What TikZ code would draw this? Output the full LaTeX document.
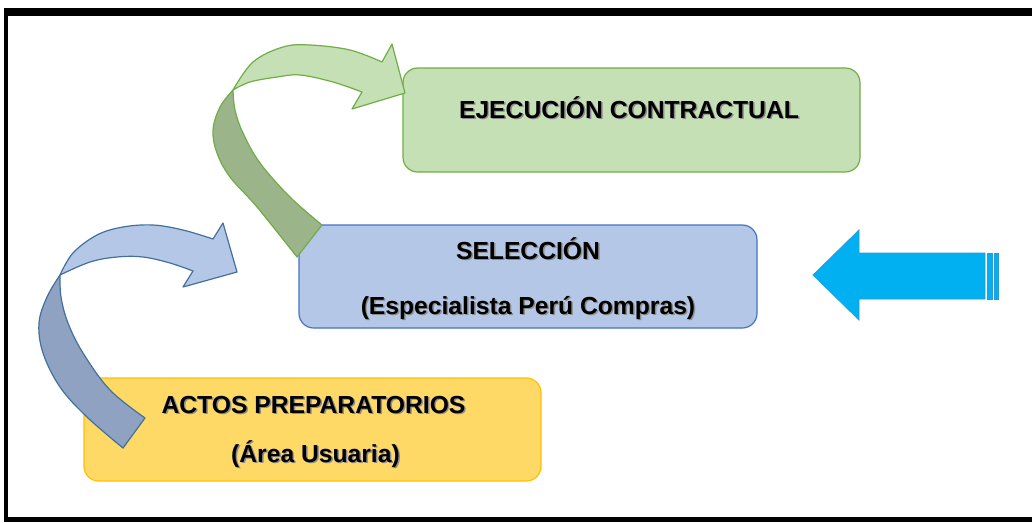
\documentclass[tikz,border=0pt]{standalone}
\usepackage{fontspec}
\setmainfont{Liberation Sans}
\usetikzlibrary{positioning}

\definecolor{verdeclaro}{HTML}{C5E0B4}
\definecolor{verdeborde}{HTML}{70AD47}
\definecolor{verdeoscuro}{HTML}{9CB48A}
\definecolor{azulclaro}{HTML}{B4C7E7}
\definecolor{azulborde}{HTML}{4472C4}
\definecolor{azulflecha}{HTML}{41719C}
\definecolor{azuloscuro}{HTML}{8FA2C2}
\definecolor{amarillo}{HTML}{FFD966}
\definecolor{amarilloborde}{HTML}{FFC000}
\definecolor{celeste}{HTML}{00B0F0}
\definecolor{celesteborde}{HTML}{2A9BDB}

% texto con sombra
\newcommand{\sombra}[1]{\leavevmode\rlap{\kern1.1pt\raisebox{-1.1pt}{\textcolor{black!45}{#1}}}#1}

\tikzset{
  etapa/.style={rectangle, rounded corners=11pt, inner sep=0pt, line width=0.9pt},
  rotulo/.style={anchor=base, inner sep=0pt, font=\fontsize{18.5}{22}\selectfont\bfseries}
}

\begin{document}
\begin{tikzpicture}[x=0.75pt,y=-0.75pt]
        \useasboundingbox (0,0) rectangle (1032,522);

        % marco
        \fill[black] (4,8) rectangle (1032,522);
        \fill[white] (8,16) rectangle (1032,517);

        % etapas
        \node[etapa, fill=verdeclaro, draw=verdeborde, minimum width=342.75pt, minimum height=78pt] (ejecucion) at (631.5,120) {};
        \node[etapa, fill=azulclaro, draw=azulborde, minimum width=343.5pt, minimum height=77.25pt] (seleccion) at (528,276.5) {};
        \node[etapa, fill=amarillo, draw=amarilloborde, minimum width=342.75pt, minimum height=77.25pt] (actos) at (312.5,429.5) {};

        \node[rotulo] (ejecuciontxt) at (629,118) {\sombra{EJECUCIÓN CONTRACTUAL}};
        \node[rotulo] (selecciontxt) at (528,259) {\sombra{SELECCIÓN}};
        \node[rotulo] (especialista) at (528,314) {\sombra{(Especialista Perú Compras)}};
        \node[rotulo] (actostxt) at (313.5,413) {\sombra{ACTOS PREPARATORIOS}};
        \node[rotulo] (usuaria) at (315.5,462) {\sombra{(Área Usuaria)}};

        % flecha curva azul: actos -> seleccion
        \filldraw[fill=azuloscuro, draw=azulflecha, line width=0.9pt, line join=round]
            plot[smooth, tension=0.6] coordinates {(60,275) (47,297) (39,323) (43,353) (60,387) (87,417) (123,448)}
            -- (145,418)
            -- plot[smooth, tension=0.6] coordinates {(145,418) (110,390) (83,353) (68,323) (61,297) (60,275)}
            -- cycle;
        \filldraw[fill=azulclaro, draw=azulflecha, line width=0.9pt, line join=round]
            plot[smooth, tension=0.6] coordinates {(60,275) (73,253) (97,235) (123,227) (153,225) (183,230) (213,239)}
            -- (223,223) -- (237,272) -- (183,287) -- (193,271)
            -- plot[smooth, tension=0.6] coordinates {(193,271) (170,263) (143,257) (117,257) (90,262) (60,275)}
            -- cycle;

        % flecha curva verde: seleccion -> ejecucion
        \filldraw[fill=verdeoscuro, draw=verdeborde, line width=0.9pt, line join=round]
            plot[smooth, tension=0.6] coordinates {(233,90) (220,107) (213,130) (217,153) (230,177) (257,207) (297,257)}
            -- (322,225)
            -- plot[smooth, tension=0.6] coordinates {(322,225) (290,197) (260,163) (243,133) (235,110) (233,90)}
            -- cycle;
        \filldraw[fill=verdeclaro, draw=verdeborde, line width=0.9pt, line join=round]
            plot[smooth, tension=0.6] coordinates {(233,90) (253,62) (283,47) (310,45) (350,50) (382,62)}
            -- (392,44) -- (405,93) -- (352,109) -- (362,92)
            -- plot[smooth, tension=0.6] coordinates {(362,92) (333,82) (300,75) (277,77) (250,82) (233,90)}
            -- cycle;

        % flecha de entrada a la derecha
        \filldraw[fill=celeste, draw=celesteborde, line width=0.6pt]
            (813,275) -- (859,230) -- (859,253) -- (985,253) -- (985,299) -- (859,299) -- (859,320) -- cycle;
        \filldraw[fill=celeste, draw=celesteborde, line width=0.6pt] (987,253) rectangle (992,299);
        \filldraw[fill=celeste, draw=celesteborde, line width=0.6pt] (994,253) rectangle (998,299);

\end{tikzpicture}
\end{document}
